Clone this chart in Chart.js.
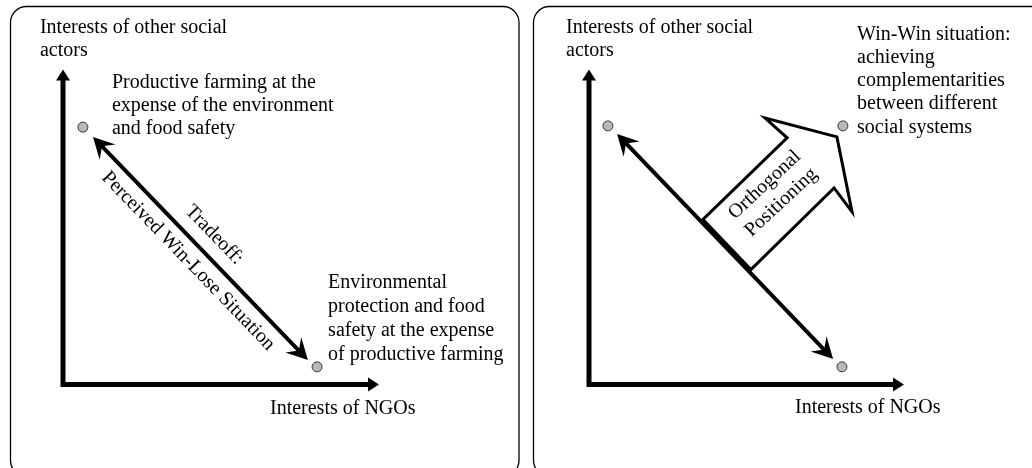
<!DOCTYPE html>
<html><head><meta charset="utf-8">
<script src="https://cdn.jsdelivr.net/npm/chart.js@4/dist/chart.umd.min.js"></script>
<style>
html,body{margin:0;padding:0;background:#fff;overflow:hidden}
#wrap{position:relative;width:1032px;height:468px}
#left{position:absolute;left:0;top:0}
#right{position:absolute;left:526px;top:0}
</style></head><body>
<div id="wrap">
<canvas id="left" width="526" height="468"></canvas>
<canvas id="right" width="506" height="468"></canvas>
</div>
<script>
// ---------- DATA (conceptual interest units, axes run 0..10) ----------
const xRange = [0, 10];
const yRange = [0, 10];
const xAxisTitle = ['Interests of NGOs'];
const yAxisTitle = ['Interests of other social', 'actors'];

// Left panel: perceived trade-off
const leftDotsX = [0.63, 8.04];
const leftDotsY = [8.17, 0.56];
const leftTradeoffX = [0.95, 7.75];
const leftTradeoffY = [7.86, 0.78];
const leftUpperNote = ['Productive farming at the', 'expense of the environment', 'and food safety'];
const leftLowerNote = ['Environmental', 'protection and food', 'safety at the expense', 'of productive farming'];
const tradeoffLabel = ['Tradeoff:'];
const winLoseLabel = ['Perceived Win-Lose Situation'];

// Right panel: orthogonal positioning
const rightDotsX = [0.60, 8.06, 8.03];
const rightDotsY = [8.21, 8.21, 0.56];
const rightTradeoffX = [0.89, 7.75];
const rightTradeoffY = [7.95, 0.81];
const orthoArrowX = [3.62, 6.29, 5.59, 7.87, 8.35, 7.78, 5.14];
const orthoArrowY = [5.24, 7.83, 8.46, 7.86, 5.48, 6.24, 3.65];
const winWinNote = ['Win-Win situation:', 'achieving', 'complementarities', 'between different', 'social systems'];
const orthoLabel = ['Orthogonal', 'Positioning'];

// ---------- helpers ----------
const zip = (xs, ys) => xs.map((x, i) => ({x: x, y: ys[i]}));
const FONT = '20px "Liberation Serif", "Times New Roman", Times, serif';

function px(chart, p) {
  return {x: chart.scales.x.getPixelForValue(p.x), y: chart.scales.y.getPixelForValue(p.y)};
}

function head(ctx, T, ux, uy, L, W, inset) {
  const nx = -uy, ny = ux;
  ctx.beginPath();
  ctx.moveTo(T.x, T.y);
  ctx.lineTo(T.x - ux * L + nx * W, T.y - uy * L + ny * W);
  ctx.lineTo(T.x - ux * (L - inset), T.y - uy * (L - inset));
  ctx.lineTo(T.x - ux * L - nx * W, T.y - uy * L - ny * W);
  ctx.closePath();
  ctx.fill();
}

function doubleArrow(ctx, A, B, o) {
  const dx = B.x - A.x, dy = B.y - A.y, len = Math.hypot(dx, dy);
  const ux = dx / len, uy = dy / len;
  const back = o.L - o.inset - 1;
  ctx.lineWidth = o.width; ctx.lineCap = 'butt';
  ctx.beginPath();
  ctx.moveTo(A.x + ux * back, A.y + uy * back);
  ctx.lineTo(B.x - ux * back, B.y - uy * back);
  ctx.stroke();
  head(ctx, B, ux, uy, o.L, o.W, o.inset);
  head(ctx, A, -ux, -uy, o.L, o.W, o.inset);
}

function drawLines(ctx, lines, x, y, lh, align) {
  ctx.textAlign = align || 'left';
  lines.forEach((t, i) => ctx.fillText(t, x, y + i * lh));
}

const diagramPlugin = {
  id: 'diagram',
  beforeDraw(chart, args, o) {
    const ctx = chart.ctx, f = o.frame;
    ctx.save();
    ctx.fillStyle = '#fff';
    ctx.fillRect(0, 0, chart.width, chart.height);
    ctx.strokeStyle = '#000'; ctx.lineWidth = 1.3;
    ctx.beginPath();
    ctx.roundRect(f.x, f.y, f.w, f.h, f.r);
    ctx.stroke();
    ctx.restore();
  },
  beforeDatasetsDraw(chart, args, o) {
    const ctx = chart.ctx;
    ctx.save();
    ctx.fillStyle = '#000'; ctx.strokeStyle = '#000';
    // axes
    const O = px(chart, {x: xRange[0], y: yRange[0]});
    const X = px(chart, {x: xRange[1], y: yRange[0]});
    const Y = px(chart, {x: xRange[0], y: yRange[1]});
    const aL = 11, aW = 7;
    ctx.lineWidth = 5; ctx.lineJoin = 'miter'; ctx.lineCap = 'butt';
    ctx.beginPath();
    ctx.moveTo(Y.x, Y.y + aL - 1);
    ctx.lineTo(O.x, O.y);
    ctx.lineTo(X.x - aL + 1, X.y);
    ctx.stroke();
    head(ctx, Y, 0, -1, aL, aW, 0);
    head(ctx, X, 1, 0, aL, aW, 0);
    // orthogonal block arrow
    if (o.block) {
      const pts = o.block.map(p => px(chart, p));
      ctx.beginPath();
      pts.forEach((p, i) => i ? ctx.lineTo(p.x, p.y) : ctx.moveTo(p.x, p.y));
      ctx.closePath();
      ctx.fillStyle = '#fff'; ctx.fill();
      ctx.lineWidth = 3; ctx.lineJoin = 'miter'; ctx.strokeStyle = '#000';
      ctx.stroke();
      ctx.fillStyle = '#000';
    }
    // trade-off double arrow
    const t = o.tradeoff.map(p => px(chart, p));
    doubleArrow(ctx, t[0], t[1], {width: 4, L: 21, W: 11, inset: 8});
    ctx.restore();
  },
  afterDatasetsDraw(chart, args, o) {
    const ctx = chart.ctx;
    ctx.save();
    ctx.fillStyle = '#000';
    ctx.font = FONT;
    ctx.textBaseline = 'alphabetic';
    o.texts.forEach(tx => {
      const p = px(chart, tx.at);
      if (tx.angle) {
        ctx.save();
        ctx.translate(p.x, p.y);
        ctx.rotate(tx.angle * Math.PI / 180);
        ctx.textBaseline = 'middle';
        ctx.textAlign = 'center';
        const n = tx.lines.length;
        tx.lines.forEach((s, i) => ctx.fillText(s, 0, (i - (n - 1) / 2) * tx.lh));
        ctx.restore();
      } else {
        drawLines(ctx, tx.lines, p.x, p.y, tx.lh, tx.align);
      }
    });
    ctx.restore();
  }
};

function makePanel(id, padding, dots, tradeoff, block, texts, frame) {
  return new Chart(document.getElementById(id), {
    type: 'scatter',
    data: {
      datasets: [{
        data: dots,
        pointRadius: 5,
        pointBackgroundColor: '#b8b8b8',
        pointBorderColor: '#3a3a3a',
        pointBorderWidth: 1,
        showLine: false,
        clip: false
      }]
    },
    options: {
      responsive: false,
      animation: false,
      events: [],
      layout: {padding: padding},
      scales: {
        x: {type: 'linear', min: xRange[0], max: xRange[1], display: false},
        y: {type: 'linear', min: yRange[0], max: yRange[1], display: false}
      },
      plugins: {
        legend: {display: false},
        tooltip: {enabled: false},
        diagram: {frame: frame, tradeoff: tradeoff, block: block, texts: texts}
      }
    },
    plugins: [diagramPlugin]
  });
}

// Left panel
makePanel('left',
  {left: 63, right: 147, top: 69.5, bottom: 83.5},
  zip(leftDotsX, leftDotsY),
  zip(leftTradeoffX, leftTradeoffY),
  null,
  [
    {lines: yAxisTitle, at: {x: -0.73, y: 11.17}, lh: 23},
    {lines: xAxisTitle, at: {x: 6.55, y: -0.94}, lh: 23},
    {lines: leftUpperNote, at: {x: 1.55, y: 9.41}, lh: 23},
    {lines: leftLowerNote, at: {x: 8.39, y: 3.06}, lh: 23.8},
    {lines: tradeoffLabel, at: {x: 4.78, y: 4.75}, lh: 23, angle: 46},
    {lines: winLoseLabel, at: {x: 3.96, y: 3.92}, lh: 23, angle: 46}
  ],
  {x: 10.5, y: 6.5, w: 508.5, h: 470, r: 16}
);

// Right panel
makePanel('right',
  {left: 63, right: 128, top: 69.5, bottom: 83.5},
  zip(rightDotsX, rightDotsY),
  zip(rightTradeoffX, rightTradeoffY),
  zip(orthoArrowX, orthoArrowY),
  [
    {lines: yAxisTitle, at: {x: -0.73, y: 11.17}, lh: 23},
    {lines: xAxisTitle, at: {x: 6.54, y: -0.90}, lh: 23},
    {lines: winWinNote, at: {x: 8.51, y: 10.95}, lh: 23.3},
    {lines: orthoLabel, at: {x: 5.84, y: 6.06}, lh: 24, angle: -43}
  ],
  {x: 7.5, y: 6.5, w: 520, h: 470, r: 16}
);
</script>
</body></html>
